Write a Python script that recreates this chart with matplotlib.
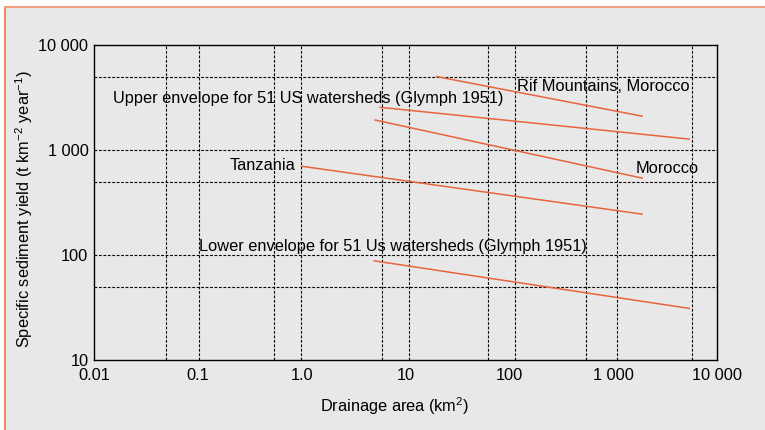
import matplotlib.pyplot as plt
from matplotlib.patches import Rectangle
from matplotlib.lines import Line2D

plt.rcParams['font.family'] = ['Liberation Sans', 'DejaVu Sans']
plt.rcParams['mathtext.fontset'] = 'custom'
plt.rcParams['mathtext.rm'] = 'Liberation Sans'

# start / end of each regional regression line (area km2, yield t km-2 yr-1)
rif_x = [20, 1900]
rif_y = [5000, 2100]
upper_x = [5.7, 5400]
upper_y = [2550, 1270]
morocco_x = [5.1, 1900]
morocco_y = [1930, 540]
tanzania_x = [1.0, 1900]
tanzania_y = [700, 245]
lower_x = [5.0, 5400]
lower_y = [88, 31]

xticks = [0.01, 0.1, 1, 10, 100, 1000, 10000]
xticklabels = ['0.01', '0.1', '1.0', '10', '100', '1 000', '10 000']
yticks = [10, 100, 1000, 10000]
yticklabels = ['10', '100', '1 000', '10 000']
# dashed grid as drawn in the original (slightly off the round values)
xgrid = [0.049, 0.103, 0.54, 0.99, 6.0, 10.7, 63, 113, 550, 1100, 5800]
ygrid = [50, 100, 500, 1000, 5000]

bg = '#e8e8e8'
orange = '#e8643c'

fig = plt.figure(figsize=(7.65, 4.3), dpi=100)
fig.patch.set_facecolor('white')
fig.patches.append(Rectangle((5/765, 0), 1, 1 - 7/430, transform=fig.transFigure,
                             facecolor=bg, edgecolor='none', zorder=-10))
fig.lines.append(Line2D([4.5/765, 4.5/765], [0, 1 - 7/430], transform=fig.transFigure,
                        color='#f08a60', lw=1.5))
fig.lines.append(Line2D([4.5/765, 1], [1 - 7/430, 1 - 7/430], transform=fig.transFigure,
                        color='#f0a080', lw=1.5))

ax = fig.add_axes([94/765, 1 - 360/430, 623/765, 315/430])
ax.set_facecolor(bg)
ax.set_xscale('log')
ax.set_yscale('log')
ax.set_xlim(0.01, 10000)
ax.set_ylim(10, 10000)

for gx in xgrid:
    ax.axvline(gx, color='black', lw=0.8, ls=(0, (2.5, 1.5)), zorder=1)
for gy in ygrid:
    ax.axhline(gy, color='black', lw=0.8, ls=(0, (2.5, 1.5)), zorder=1)

for xs, ys in [(rif_x, rif_y), (upper_x, upper_y), (morocco_x, morocco_y),
               (tanzania_x, tanzania_y), (lower_x, lower_y)]:
    ax.plot(xs, ys, color=orange, lw=1.1, zorder=3)

fs = 11.8
ax.text(118, 3670, 'Rif Mountains, Morocco', fontsize=fs, ha='left', va='baseline', zorder=4)
ax.text(0.0152, 2820, 'Upper envelope for 51 US watersheds (Glymph 1951)', fontsize=fs,
        ha='left', va='baseline', zorder=4)
ax.text(1660, 600, 'Morocco', fontsize=fs, ha='left', va='baseline', zorder=4)
ax.text(0.877, 645, 'Tanzania', fontsize=fs, ha='right', va='baseline', zorder=4)
ax.text(0.1026, 110, 'Lower envelope for 51 Us watersheds (Glymph 1951)', fontsize=fs,
        ha='left', va='baseline', zorder=4)

ax.set_xticks(xticks)
ax.set_xticklabels(xticklabels)
ax.set_yticks(yticks)
ax.set_yticklabels(yticklabels)
ax.minorticks_off()
ax.tick_params(axis='x', length=0, labelsize=fs, pad=6)
ax.tick_params(axis='y', length=0, labelsize=fs, pad=4)
for s in ax.spines.values():
    s.set_linewidth(1.0)
    s.set_color('black')
ax.set_xlabel('Drainage area (km$^2$)', fontsize=fs)
ax.set_ylabel('Specific sediment yield (t km$^{-2}$ year$^{-1}$)', fontsize=fs)
ax.xaxis.set_label_coords(0.483, -0.113)
ax.yaxis.set_label_coords(-0.095, 0.48)

fig.savefig('out.png', dpi=100, facecolor=fig.get_facecolor())
